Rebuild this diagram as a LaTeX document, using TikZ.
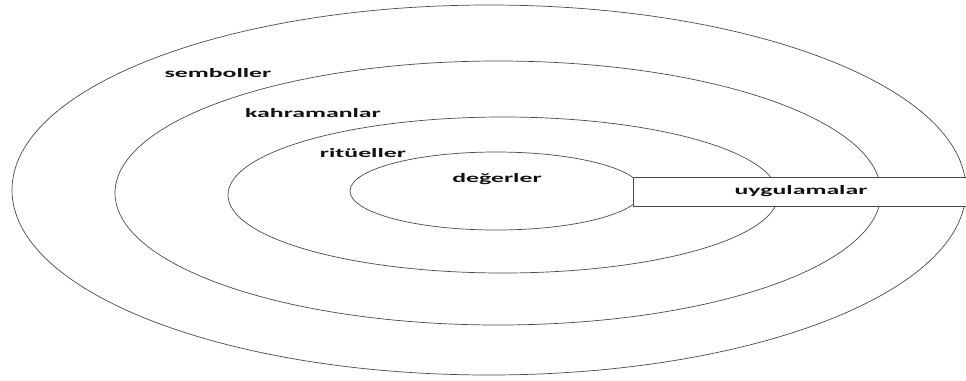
\documentclass[tikz,border=0pt]{standalone}
\usepackage{fontspec}
\usepackage{tikz}
\newfontfamily\layerfont[FakeStretch=2.0]{Carlito}
\definecolor{LayerLine}{HTML}{4A4A4A}
\definecolor{LayerText}{HTML}{111111}

\begin{document}
\begin{tikzpicture}[x=0.03cm,y=-0.03cm,
  layer/.style={LayerLine,line width=.6pt},
  layerlabel/.style={anchor=base,inner sep=0pt,text=LayerText,
    font=\layerfont\bfseries\fontsize{11}{13}\selectfont},
  practicebox/.style={layerlabel,anchor=center,draw=LayerLine,line width=.6pt,
    fill=white,minimum width=10.08cm,minimum height=0.87cm}]
\path[use as bounding box] (0,0) rectangle (966,380);
\fill[white] (0,0) rectangle (966,380);
% onion layers, outer to inner
\draw[layer] (489,190) ellipse [x radius=477, y radius=185];
\draw[layer] (498,193) ellipse [x radius=383, y radius=132];
\draw[layer] (503,195) ellipse [x radius=275, y radius=78];
\draw[layer] (496,191) ellipse [x radius=146, y radius=39];
% labels
\node[layerlabel] (semboller) at (218,77) {semboller};
\node[layerlabel] (kahramanlar) at (313,117) {kahramanlar};
\node[layerlabel] (ritueller) at (363,157) {ritüeller};
\node[layerlabel] (degerler) at (497,182) {değerler};
\node[practicebox] (uygulamalar) at (801,191.5) {uygulamalar};
\end{tikzpicture}
\end{document}
